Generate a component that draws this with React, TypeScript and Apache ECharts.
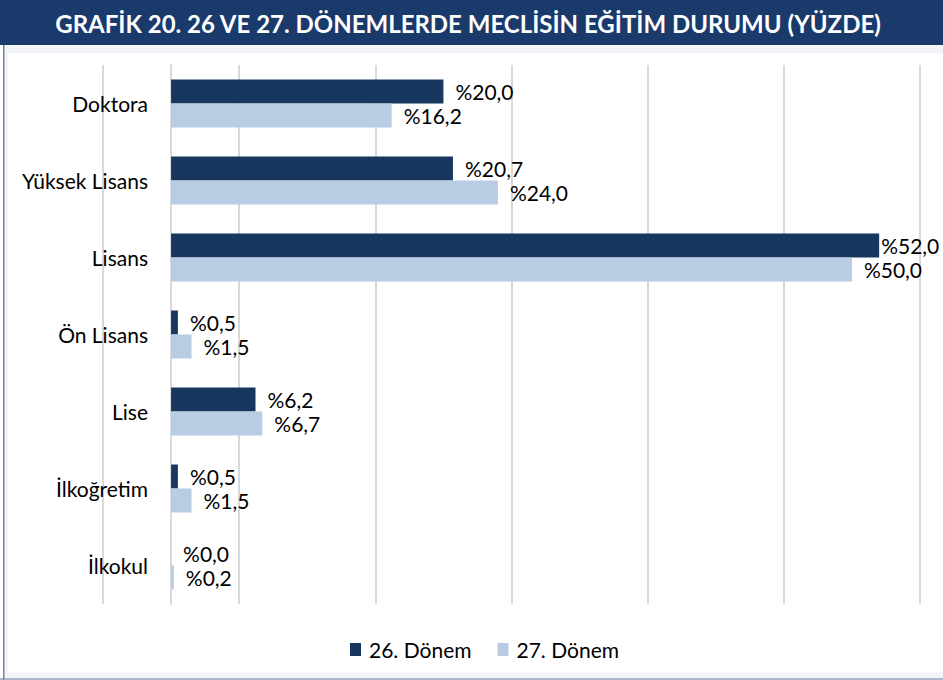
import React, { useEffect, useRef } from "react";
import * as echarts from "echarts";

const categories = ["Doktora", "Yüksek Lisans", "Lisans", "Ön Lisans", "Lise", "İlkoğretim", "İlkokul"];
const donem26 = [20.0, 20.7, 52.0, 0.5, 6.2, 0.5, 0.0];
const donem27 = [16.2, 24.0, 50.0, 1.5, 6.7, 1.5, 0.2];
const seriesNames = ["26. Dönem", "27. Dönem"];
const title = "GRAFİK 20. 26 VE 27. DÖNEMLERDE MECLİSİN EĞİTİM DURUMU (YÜZDE)";

const NAVY = "#17375e";
const LIGHT = "#b8cce4";
const FONT = "Lato";
const tightLabelCategory = "Lisans";

const fmt = (v: number) => "%" + v.toFixed(1).replace(".", ",");

export default function App() {
  const ref = useRef<HTMLDivElement>(null);
  useEffect(() => {
    if (!ref.current) return;
    const chart = echarts.init(ref.current, null, { renderer: "svg" });
    const labelBase = {
      show: true,
      position: "right",
      distance: 12,
      color: "#000",
      fontFamily: FONT,
      fontSize: 21,
      formatter: (p: any) => fmt(p.value),
    };
    chart.setOption({
      animation: false,
      backgroundColor: "#fff",
      graphic: [
        { type: "rect", shape: { x: 0, y: 0, width: 943, height: 45 }, style: { fill: "#1a3a6c" }, z: 0 },
        { type: "rect", shape: { x: 4, y: 45, width: 939, height: 8 }, style: { fill: "#f2f4f8" }, z: 0 },
        { type: "rect", shape: { x: 4, y: 45, width: 4, height: 633 }, style: { fill: "#f2f4f8" }, z: 0 },
        { type: "rect", shape: { x: 4, y: 672, width: 939, height: 6 }, style: { fill: "#f2f4f8" }, z: 0 },
        { type: "rect", shape: { x: 0, y: 678, width: 943, height: 2 }, style: { fill: "#a9b6cc" }, z: 0 },
        { type: "rect", shape: { x: 3, y: 45, width: 1.5, height: 635 }, style: { fill: "#6d84ad" }, z: 0 },
        {
          type: "text",
          x: 468,
          y: 23,
          style: {
            text: title,
            fill: "#fff",
            font: `bold 24px ${FONT}`,
            align: "center",
            verticalAlign: "middle",
          },
          z: 1,
        },
      ],
      legend: {
        data: seriesNames,
        left: 345,
        top: 634,
        itemWidth: 11,
        itemHeight: 13,
        itemGap: 26,
        icon: "rect",
        textStyle: { fontFamily: FONT, fontSize: 21, color: "#000", padding: [0, 0, 0, 3] },
      },
      grid: { left: 103, right: 23, top: 65, bottom: 76, containLabel: false, outerBoundsMode: "none" },
      xAxis: {
        type: "value",
        min: -5,
        max: 55,
        interval: 10,
        axisLabel: { show: false },
        axisTick: { show: false },
        axisLine: { show: false },
        splitLine: { show: true, lineStyle: { color: "#d9d9d9", width: 2 } },
      },
      yAxis: {
        type: "category",
        data: categories,
        inverse: true,
        axisTick: { show: false },
        axisLine: { show: true, onZero: true, lineStyle: { color: "#d9d9d9", width: 2 } },
        axisLabel: { color: "#000", fontFamily: FONT, fontSize: 21, margin: -45 },
      },
      series: [
        {
          name: seriesNames[0],
          type: "bar",
          barWidth: 24,
          barGap: "0%",
          itemStyle: { color: NAVY },
          label: labelBase,
          data: donem26.map((v, i) =>
            categories[i] === tightLabelCategory ? { value: v, label: { distance: 2 } } : v
          ),
        },
        {
          name: seriesNames[1],
          type: "bar",
          barWidth: 24,
          barGap: "0%",
          itemStyle: { color: LIGHT },
          label: labelBase,
          data: donem27,
        },
      ],
    });
    return () => chart.dispose();
  }, []);
  return (
    <div
      ref={ref}
      style={{ position: "fixed", left: 0, top: 0, width: 943, height: 680 }}
    />
  );
}
